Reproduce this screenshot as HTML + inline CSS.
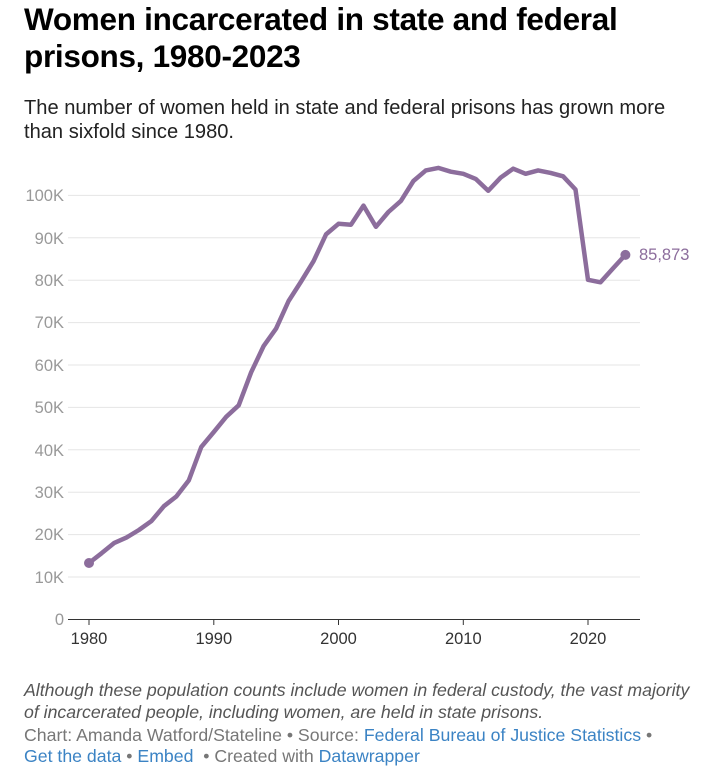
<!DOCTYPE html>
<html><head><meta charset="utf-8"><style>
body{margin:0;background:#fff;width:712px;height:772px;overflow:hidden;font-family:"Liberation Sans",sans-serif}
h1{position:absolute;left:24px;top:1px;margin:0;font-size:31.5px;line-height:37px;font-weight:bold;color:#000;letter-spacing:-0.3px}
.sub{position:absolute;left:24px;top:96px;font-size:20.1px;line-height:24px;color:#222;white-space:nowrap}
.note{position:absolute;left:24px;top:679px;font-size:17.7px;line-height:22px;color:#555;font-style:italic;white-space:nowrap}
.foot{position:absolute;left:24px;top:725px;font-size:17.7px;line-height:21px;color:#777;white-space:nowrap}
.foot a{color:#3b83c4;text-decoration:none}
svg{position:absolute;left:0;top:0}
</style></head><body>
<h1>Women incarcerated in state and federal<br>prisons, 1980-2023</h1>
<div class="sub">The number of women held in state and federal prisons has grown more<br>than sixfold since 1980.</div>
<svg width="712" height="680" font-family="Liberation Sans, sans-serif">
<g stroke="#e5e5e5" stroke-width="1">
<line x1="68" x2="640" y1="577" y2="577"/><line x1="68" x2="640" y1="534.6" y2="534.6"/>
<line x1="68" x2="640" y1="492.2" y2="492.2"/><line x1="68" x2="640" y1="449.8" y2="449.8"/>
<line x1="68" x2="640" y1="407.4" y2="407.4"/><line x1="68" x2="640" y1="365" y2="365"/>
<line x1="68" x2="640" y1="322.6" y2="322.6"/><line x1="68" x2="640" y1="280.2" y2="280.2"/>
<line x1="68" x2="640" y1="237.8" y2="237.8"/><line x1="68" x2="640" y1="195.4" y2="195.4"/>
</g>
<line x1="68" x2="640" y1="619.5" y2="619.5" stroke="#333" stroke-width="1"/>
<g fill="#999" font-size="16.5" text-anchor="end">
<text x="64" y="625">0</text><text x="64" y="583">10K</text><text x="64" y="540">20K</text>
<text x="64" y="498">30K</text><text x="64" y="456">40K</text><text x="64" y="413">50K</text>
<text x="64" y="371">60K</text><text x="64" y="328">70K</text><text x="64" y="286">80K</text>
<text x="64" y="244">90K</text><text x="64" y="201">100K</text>
</g>
<g stroke="#333"><line x1="89" x2="89" y1="619" y2="625"/><line x1="213.8" x2="213.8" y1="619" y2="625"/><line x1="338.5" x2="338.5" y1="619" y2="625"/><line x1="463.3" x2="463.3" y1="619" y2="625"/><line x1="588" x2="588" y1="619" y2="625"/></g>
<g fill="#333" font-size="16.5" text-anchor="middle">
<text x="89" y="644">1980</text><text x="213.8" y="644">1990</text><text x="338.5" y="644">2000</text><text x="463.3" y="644">2010</text><text x="588" y="644">2020</text>
</g>
<polyline fill="none" stroke="#8c6d9c" stroke-width="4.5" stroke-linejoin="round" stroke-linecap="round" points="89,563 101.5,553.3 114,543.1 126.4,537.6 138.9,530 151.4,521.1 163.9,506.2 176.3,496.5 188.8,480.4 201.3,446.9 213.8,432 226.2,416.8 238.7,405.3 251.2,372.2 263.7,345.9 276.1,328.6 288.6,301 301.1,281.5 313.6,261.1 326,234.4 338.5,223.8 351,224.7 363.5,205.6 375.9,226.8 388.4,212 400.9,200.9 413.4,181 425.8,170.4 438.3,167.9 450.8,171.7 463.3,173.8 475.7,178.9 488.2,190.8 500.7,177.6 513.2,168.7 525.6,173.8 538.1,170.4 550.6,172.9 563.1,176.3 575.5,189.5 588,279.8 600.5,282.3 613,268.4 625.4,254.9"/>
<circle cx="89" cy="563" r="5" fill="#8c6d9c"/><circle cx="625.4" cy="254.9" r="5" fill="#8c6d9c"/>
<text x="639" y="260" fill="#8c6d9c" font-size="16.5">85,873</text>
</svg>
<div class="note">Although these population counts include women in federal custody, the vast majority<br>of incarcerated people, including women, are held in state prisons.</div>
<div class="foot">Chart: Amanda Watford/Stateline • Source: <a>Federal Bureau of Justice Statistics</a> •<br><a>Get the data</a> • <a>Embed</a> &nbsp;• Created with <a>Datawrapper</a></div>
</body></html>
